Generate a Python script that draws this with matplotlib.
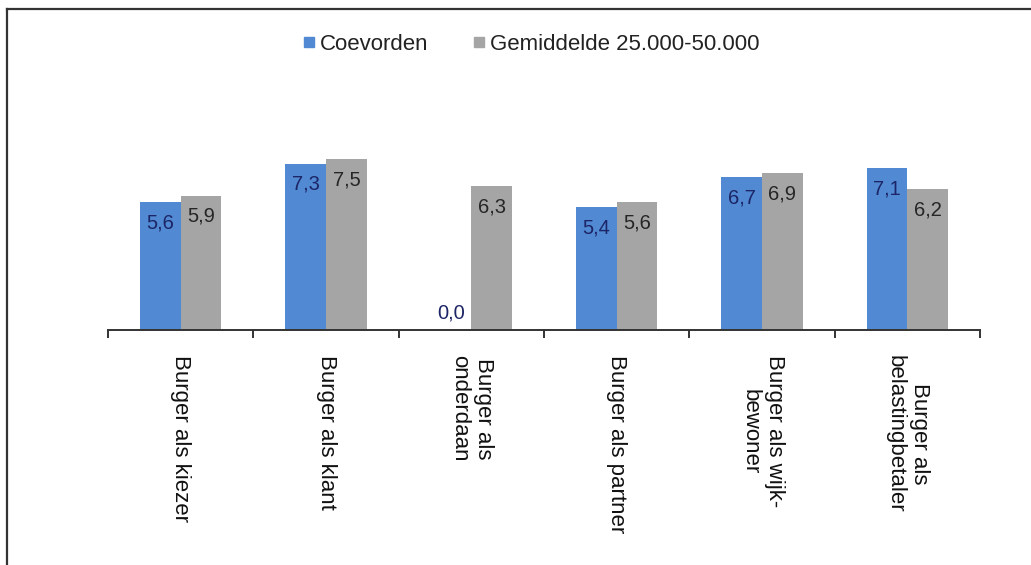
import matplotlib
matplotlib.use("Agg")
import matplotlib.pyplot as plt
from matplotlib.lines import Line2D
import numpy as np

categories = ["Burger als kiezer", "Burger als klant", "Burger als\nonderdaan",
              "Burger als partner", "Burger als wijk-\nbewoner", "Burger als\nbelastingbetaler"]
coevorden = [5.6, 7.3, 0.0, 5.4, 6.7, 7.1]
gemiddelde = [5.9, 7.5, 6.3, 5.6, 6.9, 6.2]
series_names = ["Coevorden", "Gemiddelde 25.000-50.000"]

blue = '#5189d3'
grey = '#a5a5a5'
plt.rcParams['font.family'] = ['Liberation Sans', 'DejaVu Sans']

fig = plt.figure(figsize=(10.31, 5.65), dpi=100)
ax = fig.add_axes([0.1048, 0.4159, 0.8458, 0.4035])

x = np.arange(len(categories))
w = 0.28
b1 = ax.bar(x - w/2, coevorden, w, color=blue)
b2 = ax.bar(x + w/2, gemiddelde, w, color=grey)

def fmt(v):
    return ("%.1f" % v).replace('.', ',')

for bars, vals, col in [(b1, coevorden, '#1c2566'), (b2, gemiddelde, '#262626')]:
    for r, v in zip(bars, vals):
        off = -15 if v > 0 else 12
        ax.annotate(fmt(v), (r.get_x() + r.get_width()/2, v), xytext=(0, off),
                    textcoords='offset points', ha='center', va='center',
                    fontsize=14.5, color=col)

ax.set_xlim(-0.5, len(categories) - 0.5)
ax.set_ylim(0, 10)
ax.set_yticks([])
for s in ['top', 'right', 'left']:
    ax.spines[s].set_visible(False)
ax.spines['bottom'].set_color('#333333')
ax.spines['bottom'].set_linewidth(1.4)

ax.set_xticks(x)
ax.set_xticklabels(categories, rotation=270, va='top', ha='center',
                   multialignment='center', fontsize=16, color='#111111')
ax.tick_params(axis='x', which='major', length=0, pad=18)
ax.set_xticks(np.arange(len(categories) + 1) - 0.5, minor=True)
ax.tick_params(axis='x', which='minor', length=6, width=1.4, color='#333333', direction='out')

handles = [Line2D([], [], marker='s', linestyle='none', markersize=7, color=blue),
           Line2D([], [], marker='s', linestyle='none', markersize=7, color=grey)]
fig.legend(handles, series_names, loc='center', bbox_to_anchor=(0.515, 0.922), ncol=2,
           frameon=False, fontsize=16, handlelength=0.6, handletextpad=0.2,
           columnspacing=2.0, labelcolor='#222222')

# outer chart border (left and top only visible)
fig.add_artist(Line2D([0.0068, 0.0068], [0, 1 - 9/565], transform=fig.transFigure,
                      color='#333333', linewidth=1.6))
fig.add_artist(Line2D([0.0068, 1.0], [1 - 9/565, 1 - 9/565], transform=fig.transFigure,
                      color='#333333', linewidth=1.6))

plt.savefig("out.png", dpi=100)
